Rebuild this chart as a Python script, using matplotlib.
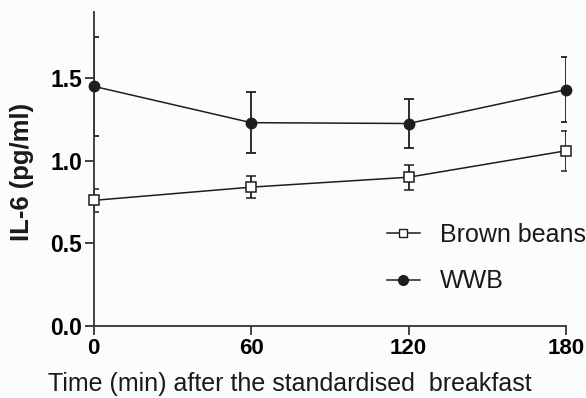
import matplotlib
matplotlib.use("Agg")
import matplotlib.pyplot as plt
from matplotlib.lines import Line2D

time = [0, 60, 120, 180]
brown_beans = [0.76, 0.84, 0.90, 1.06]
brown_beans_err = [0.068, 0.068, 0.076, 0.122]
wwb = [1.45, 1.23, 1.225, 1.43]
wwb_err = [0.30, 0.183, 0.151, 0.195]
xticks = [0, 60, 120, 180]
yticks = [0.0, 0.5, 1.0, 1.5]
labels = ['Brown beans', 'WWB']

plt.rcParams['font.family'] = ['Liberation Sans', 'DejaVu Sans']

bg = '#fbfcfd'
fig = plt.figure(figsize=(5.86, 3.98), dpi=100, facecolor=bg)
ax = fig.add_axes([0.160, 0.181, 0.806, 0.789])
ax.set_facecolor(bg)

col = '#1e1e1e'
e1 = ax.errorbar(time, brown_beans, yerr=brown_beans_err, color=col, lw=1.1,
                 marker='s', ms=6.5, mfc='white', mec=col, mew=1.1,
                 capsize=3.5, capthick=1.3, elinewidth=1.3)
e2 = ax.errorbar(time, wwb, yerr=wwb_err, color=col, lw=1.1,
                 marker='o', ms=7.5, mfc=col, mec=col,
                 capsize=3.5, capthick=1.3, elinewidth=1.3)
for e in (e1, e2):
    e[0].set_clip_on(False)
    e[0].set_zorder(5)

ax.set_xlim(0, 180)
ax.set_ylim(0, 1.9)
ax.set_xticks(xticks)
ax.set_xticklabels([str(t) for t in xticks], fontsize=16, fontweight='bold')
ax.set_yticks(yticks)
ax.set_yticklabels([f'{v:.1f}' for v in yticks], fontsize=16.5, fontweight='bold')
for s in ['top', 'right']:
    ax.spines[s].set_visible(False)
for s in ['left', 'bottom']:
    ax.spines[s].set_linewidth(1.3)
    ax.spines[s].set_color('#333333')
ax.tick_params(direction='out', length=6.5, width=1.3, color='#333333', pad=2)

fig.text(0.495, 0.017, 'Time (min) after the standardised  breakfast', fontsize=18,
         ha='center', va='baseline', color='#1a1a1a')
fig.text(0.0375, 0.568, 'IL-6 (pg/ml)', fontsize=18.5, fontweight='bold',
         rotation=90, ha='center', va='center', color='#1a1a1a')

handles = [
    Line2D([], [], color=col, lw=1.1, marker='s', ms=6, mfc='white', mec=col, mew=1.0),
    Line2D([], [], color=col, lw=1.1, marker='o', ms=7, mfc=col, mec=col),
]
ax.legend(handles, labels, loc='upper left', bbox_to_anchor=(0.660, 0.440),
          bbox_transform=fig.transFigure, frameon=False, borderpad=0, borderaxespad=0,
          fontsize=18, handlelength=1.33, handletextpad=0.8, labelspacing=0.9,
          labelcolor='#1a1a1a')

fig.savefig('out.png', dpi=100, facecolor=fig.get_facecolor())
